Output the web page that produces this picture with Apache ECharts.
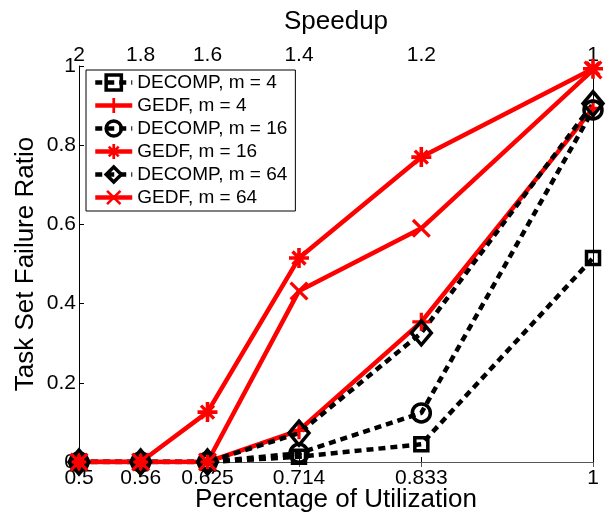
<!DOCTYPE html>
<html>
<head>
<meta charset="utf-8">
<script src="https://cdn.jsdelivr.net/npm/echarts@6/dist/echarts.min.js"></script>
<style>
  html, body { margin: 0; padding: 0; background: #fff; }
  #chart { width: 609px; height: 519px; }
</style>
</head>
<body>
<div id="chart"></div>
<script>
// x positions (utilization) and the matching speedup labels on top
const utilization = [0.5, 0.56, 0.625, 0.714, 0.833, 1];
const speedupLabels = ['2', '1.8', '1.6', '1.4', '1.2', '1'];

// failure ratios
const decomp4  = [0, 0, 0, 0.013, 0.045, 0.515];
const gedf4    = [0, 0, 0, 0.08, 0.354, 0.893];
const decomp16 = [0, 0, 0, 0.022, 0.124, 0.889];
const gedf16   = [0, 0, 0.126, 0.515, 0.77, 0.993];
const decomp64 = [0, 0, 0, 0.073, 0.326, 0.905];
const gedf64   = [0, 0, 0, 0.432, 0.59, 0.99];

const FONT = 'Liberation Sans, Arial, sans-serif';

// marker shapes (filled paths)
const PLUS = 'path://M-10,-1.8L10,-1.8L10,1.8L-10,1.8Z M-1.8,-10L1.8,-10L1.8,10L-1.8,10Z';
const CROSS = 'path://M-10,-7.6L-7.6,-10L10,7.6L7.6,10Z M7.6,-10L10,-7.6L-7.6,10L-10,7.6Z';
const STAR = 'path://M-10,-1.8L10,-1.8L10,1.8L-10,1.8Z M-1.8,-10L1.8,-10L1.8,10L-1.8,10Z ' +
             'M-7.7,-5.3L-5.3,-7.7L7.7,5.3L5.3,7.7Z M5.3,-7.7L7.7,-5.3L-5.3,7.7L-7.7,5.3Z';

const DASH = [7, 5];

function pairs(ys) {
  return utilization.map((x, i) => [x, ys[i]]);
}

function decompSeries(name, ys, symbol, size) {
  return {
    name: name,
    type: 'line',
    data: pairs(ys),
    symbol: symbol,
    symbolSize: size,
    lineStyle: { color: '#000', width: 4.5, type: DASH },
    itemStyle: { color: 'rgba(255,255,255,0)', borderColor: '#000', borderWidth: 3.5 }
  };
}

function gedfSeries(name, ys, symbol, size) {
  return {
    name: name,
    type: 'line',
    data: pairs(ys),
    symbol: symbol,
    symbolSize: size,
    lineStyle: { color: '#ff0000', width: 4.5 },
    itemStyle: { color: '#ff0000', borderWidth: 0 }
  };
}

function legendItem(name, dashed) {
  return {
    name: name,
    lineStyle: dashed ? { width: 4.5, type: DASH } : { width: 4.5 },
    itemStyle: dashed ? { borderWidth: 3.5 } : {}
  };
}

const chart = echarts.init(document.getElementById('chart'));
chart.setOption({
  animation: false,
  backgroundColor: '#fff',
  textStyle: { fontFamily: FONT },
  grid: { left: 79, right: 16, top: 66, bottom: 57, outerBoundsMode: 'none', containLabel: false },
  legend: {
    orient: 'vertical',
    left: 86,
    top: 70,
    padding: [3, 8, 4, 7],
    itemWidth: 37,
    itemHeight: 19,
    itemGap: 4,
    borderColor: '#000',
    borderWidth: 1,
    borderRadius: 0,
    backgroundColor: '#fff',
    textStyle: { fontFamily: FONT, fontSize: 19, color: '#000' },
    data: [
      legendItem('DECOMP, m = 4', true),
      legendItem('GEDF, m = 4', false),
      legendItem('DECOMP, m = 16', true),
      legendItem('GEDF, m = 16', false),
      legendItem('DECOMP, m = 64', true),
      legendItem('GEDF, m = 64', false)
    ]
  },
  xAxis: [
    {
      type: 'value',
      position: 'bottom',
      min: 0.5,
      max: 1,
      name: 'Percentage of Utilization',
      nameLocation: 'middle',
      nameGap: 25,
      nameMoveOverlap: false,
      nameTextStyle: { fontFamily: FONT, fontSize: 26, color: '#000' },
      splitLine: { show: false },
      axisLine: { lineStyle: { color: '#000', width: 1 } },
      axisTick: { inside: true, length: 5, lineStyle: { color: '#000' }, customValues: utilization },
      axisLabel: {
        fontFamily: FONT, fontSize: 21, color: '#000', margin: 6,
        customValues: utilization,
        formatter: v => String(v)
      }
    },
    {
      type: 'value',
      position: 'top',
      min: 0.5,
      max: 1,
      name: 'Speedup',
      nameLocation: 'middle',
      nameGap: 31,
      nameMoveOverlap: false,
      nameTextStyle: { fontFamily: FONT, fontSize: 26, color: '#000' },
      splitLine: { show: false },
      axisLine: { lineStyle: { color: '#555', width: 1 } },
      axisTick: { inside: true, length: 5, lineStyle: { color: '#555' }, customValues: utilization },
      axisLabel: {
        fontFamily: FONT, fontSize: 21, color: '#000', margin: 0,
        customValues: utilization,
        formatter: v => speedupLabels[utilization.indexOf(v)]
      }
    }
  ],
  yAxis: [
    {
      type: 'value',
      position: 'left',
      min: 0,
      max: 1,
      interval: 0.2,
      name: 'Task Set Failure Ratio',
      nameLocation: 'middle',
      nameGap: 40,
      nameMoveOverlap: false,
      nameTextStyle: { fontFamily: FONT, fontSize: 26, color: '#000' },
      splitLine: { show: false },
      axisLine: { show: true, lineStyle: { color: '#000', width: 1 } },
      axisTick: { show: true, inside: true, length: 5, lineStyle: { color: '#000' } },
      axisLabel: { fontFamily: FONT, fontSize: 21, color: '#000', margin: 3 }
    },
    {
      type: 'value',
      position: 'right',
      min: 0,
      max: 1,
      splitLine: { show: false },
      axisLine: { show: true, lineStyle: { color: '#000', width: 1 } },
      axisTick: { show: false },
      axisLabel: { show: false }
    }
  ],
  series: [
    decompSeries('DECOMP, m = 4', decomp4, 'rect', 13),
    gedfSeries('GEDF, m = 4', gedf4, PLUS, 18),
    decompSeries('DECOMP, m = 16', decomp16, 'circle', 18),
    gedfSeries('GEDF, m = 16', gedf16, STAR, 20),
    decompSeries('DECOMP, m = 64', decomp64, 'diamond', [20, 24]),
    gedfSeries('GEDF, m = 64', gedf64, CROSS, 19)
  ]
});
</script>
</body>
</html>
